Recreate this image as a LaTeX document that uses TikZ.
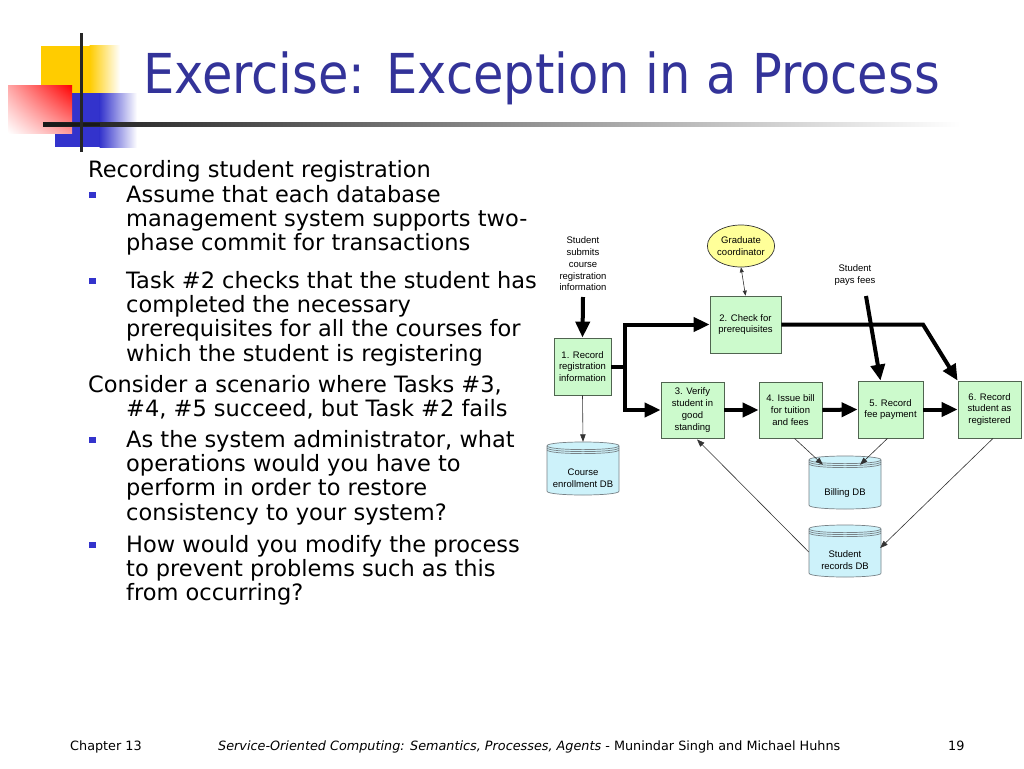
\documentclass[tikz,border=0pt]{standalone}
\usepackage{fontspec}
\usetikzlibrary{arrows.meta,shapes.geometric,calc,shadings}
\newfontfamily\bodyfont{DejaVu Sans}
\newfontfamily\titlefont{DejaVu Sans Condensed}
\newfontfamily\diafont{Liberation Sans}
\definecolor{titleblue}{RGB}{51,51,153}
\definecolor{bulletblue}{RGB}{51,51,204}
\definecolor{logoyellow}{RGB}{255,204,0}
\definecolor{logoblue}{RGB}{51,51,204}
\definecolor{taskfill}{RGB}{204,250,204}
\definecolor{taskborder}{RGB}{80,100,80}
\definecolor{gcfill}{RGB}{255,255,153}
\definecolor{dbfill}{RGB}{205,242,250}
\definecolor{dbborder}{RGB}{120,130,135}
\tikzset{
  txtline/.style={anchor=base west, inner sep=0pt, font=\bodyfont\fontsize{22.5}{26}\selectfont},
  bul/.style={fill=bulletblue, minimum size=6.5pt, inner sep=0pt},
  task/.style={draw=taskborder, fill=taskfill, line width=0.8pt, align=center, inner sep=0pt,
    font=\diafont\fontsize{9.5}{11.8}\selectfont},
  lbl/.style={align=center, inner sep=0pt, font=\diafont\fontsize{9.5}{11.8}\selectfont},
  dbbox/.style={inner sep=0pt, minimum width=72pt, minimum height=53pt},
  thickarrow/.style={line width=4pt, -{Triangle[length=16pt,width=14pt]}},
  thickline/.style={line width=4pt},
  thinarrow/.style={line width=0.6pt, draw=black!80, -{Triangle[length=7.5pt,width=5.5pt]}},
  foot/.style={anchor=base west, inner sep=0pt, font=\bodyfont\fontsize{12.8}{15}\selectfont},
}
% cylinder: centre x, top y, bottom y
\newcommand\cylshape[3]{%
  \pgfmathsetmacro\cxl{#1-36}\pgfmathsetmacro\cxr{#1+36}%
  \pgfmathsetmacro\ct{#2+3.8}\pgfmathsetmacro\cb{#3-3.8}%
  \pgfmathsetmacro\ctc{#2+3.8+3.8*4/3}\pgfmathsetmacro\cbc{#3-3.8+3.8*4/3}%
  \pgfmathsetmacro\cta{#2+5.8}\pgfmathsetmacro\ctac{#2+5.8+3.8*4/3}%
  \pgfmathsetmacro\ctb{#2+7.8}\pgfmathsetmacro\ctbc{#2+7.8+3.8*4/3}%
  \filldraw[fill=dbfill, draw=dbborder, line width=0.7pt]
    (\cxl,\ct) -- (\cxl,\cb) .. controls (\cxl,\cbc) and (\cxr,\cbc) .. (\cxr,\cb) -- (\cxr,\ct)
    .. controls (\cxr,\ct-5.07) and (\cxl,\ct-5.07) .. (\cxl,\ct) -- cycle;
  \draw[draw=dbborder, line width=0.7pt]
    (\cxl,\ct) .. controls (\cxl,\ctc) and (\cxr,\ctc) .. (\cxr,\ct)
    (\cxl,\cta) .. controls (\cxl,\ctac) and (\cxr,\ctac) .. (\cxr,\cta)
    (\cxl,\ctb) .. controls (\cxl,\ctbc) and (\cxr,\ctbc) .. (\cxr,\ctb);
}
\begin{document}
\begin{tikzpicture}[x=1pt,y=-1pt]
\useasboundingbox (0,0) rectangle (1024,768);
\fill[white] (0,0) rectangle (1024,768);
% logo
\fill[logoyellow] (41,46) rectangle (90,93);
\shade[left color=logoyellow, right color=white] (89.5,46) rectangle (120,93);
\fill[logoblue] (55,93) rectangle (100,147);
\shade[left color=logoblue, right color=white] (99.5,93) rectangle (137,147);
\shade[upper left=red!35, upper right=red, lower left=white, lower right=red!40] (8,85) rectangle (72,133);
\shade[left color=black!90, right color=white] (43,122.5) rectangle (960,126);
\fill[black!90] (43,122.5) rectangle (100,126);
\fill[black!85] (79.5,33) rectangle (82.5,152);
% title
\node[anchor=base west, inner sep=0pt, text=titleblue, font=\titlefont\fontsize{55}{60}\selectfont] (title) at (143,93) {Exercise: Exception in a Process};
% body text
\node[txtline] (t1) at (88,177) {Recording student registration};
\node[txtline] (t2) at (126,202) {Assume that each database};
\node[txtline] (t3) at (126,226) {management system supports two-};
\node[txtline] (t4) at (126,250) {phase commit for transactions};
\node[txtline] (t5) at (126,288) {Task \#2 checks that the student has};
\node[txtline] (t6) at (126,312) {completed the necessary};
\node[txtline] (t7) at (126,336) {prerequisites for all the courses for};
\node[txtline] (t8) at (126,361) {which the student is registering};
\node[txtline] (t9) at (88,392) {Consider a scenario where Tasks \#3,};
\node[txtline] (t10) at (126,416) {\#4, \#5 succeed, but Task \#2 fails};
\node[txtline] (t11) at (126,447) {As the system administrator, what};
\node[txtline] (t12) at (126,471) {operations would you have to};
\node[txtline] (t13) at (126,495) {perform in order to restore};
\node[txtline] (t14) at (126,520) {consistency to your system?};
\node[txtline] (t15) at (126,552) {How would you modify the process};
\node[txtline] (t16) at (126,576) {to prevent problems such as this};
\node[txtline] (t17) at (126,600) {from occurring?};
\node[bul] (b1) at (92.5,195) {};
\node[bul] (b2) at (92.5,281) {};
\node[bul] (b3) at (92.5,440) {};
\node[bul] (b4) at (92.5,545) {};
% diagram
\node[lbl] (ssub) at (583,264) {Student\\submits\\course\\registration\\information};
\node[lbl] (spf) at (855,275) {Student\\pays fees};
\node[draw=black!80, fill=gcfill, ellipse, line width=0.7pt, minimum width=62pt, minimum height=42pt, inner sep=0pt, align=center, font=\diafont\fontsize{9.5}{11.8}\selectfont] (gc) at (741,246) {Graduate\\coordinator};
\node[task, minimum width=57pt, minimum height=57pt] (n1) at (582.5,366.5) {1. Record\\registration\\information};
\node[task, minimum width=71pt, minimum height=57pt] (n2) at (745.5,324.5) {2. Check for\\prerequisites};
\node[task, minimum width=63pt, minimum height=56pt] (n3) at (692.5,410) {3. Verify\\student in\\good\\standing};
\node[task, minimum width=63pt, minimum height=56pt] (n4) at (790.5,410) {4. Issue bill\\for tuition\\and fees};
\node[task, minimum width=65pt, minimum height=57pt] (n5) at (890.5,409.5) {5. Record\\fee payment};
\node[task, minimum width=63pt, minimum height=57pt] (n6) at (989.5,409.5) {6. Record\\student as\\registered};
% databases
\cylshape{583}{442}{495}
\cylshape{845}{456}{509}
\cylshape{845}{525}{577}
\node[dbbox] (cdb) at (583,468.5) {};
\node[dbbox] (bdb) at (845,482.5) {};
\node[dbbox] (sdb) at (845,551) {};
\node[lbl] (cdbl) at (583,478.5) {Course\\enrollment DB};
\node[lbl] (bdbl) at (845,493) {Billing DB};
\node[lbl] (sdbl) at (845,560) {Student\\records DB};
% connectors
\coordinate (j1) at (625,366.5);
\coordinate (j2) at (923,324.5);
\coordinate (spfa) at (866,296);
\draw[thickarrow] (583,297) -- (n1.north);
\draw[thickline] (n1.east) -- (j1);
\draw[thickarrow] ($(j1)+(0,2)$) |- (n2.west);
\draw[thickarrow] ($(j1)+(0,-2)$) |- (n3.west);
\draw[thickarrow] (n3.east) -- (n4.west);
\draw[thickarrow] (n4.east) -- (n5.west);
\draw[thickarrow] (n5.east) -- (n6.west);
\draw[thickarrow] (n2.east) -- (j2) -- (n6.north west);
\draw[thickarrow] (spfa) -- ($(n5.north)+(-10,0)$);
\draw[line width=0.6pt, draw=black!80, {Triangle[length=5pt,width=4pt]}-{Triangle[length=5pt,width=4pt]}] (gc.south) -- (n2.north);
\draw[thinarrow] (n1.south) -- (cdb.north);
\draw[thinarrow] ($(n4.south)+(4,0)$) -- ($(bdb.north)+(-22,9)$);
\draw[thinarrow] ($(n5.south)+(-3,0)$) -- ($(bdb.north)+(15,9)$);
\draw[thinarrow] ($(n6.south)+(3.5,0)$) -- ($(sdb.east)+(-1,-3)$);
\draw[thinarrow] ($(sdb.west)+(0,1)$) -- ($(n3.south)+(4.5,1)$);
% footer
\node[foot] (f1) at (70,750) {Chapter 13};
\node[foot] (f2) at (218,750) {{\itshape Service-Oriented Computing: Semantics, Processes, Agents} - Munindar Singh and Michael Huhns};
\node[foot] (f3) at (948,750) {19};
\end{tikzpicture}
\end{document}
